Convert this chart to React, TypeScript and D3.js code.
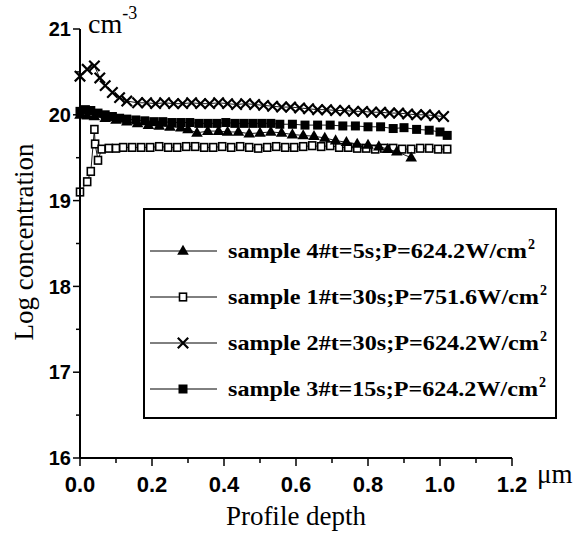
import React from 'react';
import * as d3 from 'd3';

// profile depth (um) / log concentration per sample
const s4x = [0.0, 0.02, 0.04, 0.07, 0.1, 0.13, 0.16, 0.19, 0.22, 0.25, 0.28, 0.3, 0.325, 0.355, 0.385, 0.41, 0.44, 0.47, 0.5, 0.53, 0.56, 0.59, 0.62, 0.65, 0.68, 0.71, 0.74, 0.77, 0.8, 0.83, 0.855, 0.88, 0.92];
const s4y = [20.0, 19.99, 19.98, 19.96, 19.94, 19.92, 19.9, 19.88, 19.87, 19.86, 19.85, 19.83, 19.79, 19.81, 19.81, 19.8, 19.8, 19.78, 19.79, 19.8, 19.79, 19.77, 19.76, 19.75, 19.73, 19.7, 19.68, 19.66, 19.65, 19.63, 19.6, 19.57, 19.5];

const s1x = [0.0, 0.02, 0.03, 0.04, 0.042, 0.05, 0.06, 0.08, 0.1, 0.12, 0.145, 0.17, 0.195, 0.22, 0.245, 0.27, 0.295, 0.32, 0.345, 0.37, 0.395, 0.42, 0.445, 0.47, 0.495, 0.52, 0.545, 0.57, 0.595, 0.62, 0.645, 0.67, 0.695, 0.72, 0.745, 0.77, 0.795, 0.82, 0.845, 0.87, 0.895, 0.92, 0.945, 0.97, 0.995, 1.02];
const s1y = [19.1, 19.22, 19.34, 19.83, 19.66, 19.47, 19.6, 19.61, 19.61, 19.62, 19.62, 19.62, 19.62, 19.63, 19.62, 19.62, 19.63, 19.63, 19.62, 19.62, 19.63, 19.62, 19.63, 19.62, 19.61, 19.62, 19.63, 19.62, 19.62, 19.63, 19.64, 19.63, 19.64, 19.62, 19.62, 19.61, 19.61, 19.6, 19.61, 19.61, 19.6, 19.6, 19.61, 19.61, 19.6, 19.6];

const s2x = [0.0, 0.02, 0.04, 0.055, 0.07, 0.09, 0.11, 0.13, 0.16, 0.185, 0.21, 0.235, 0.26, 0.285, 0.31, 0.335, 0.36, 0.385, 0.41, 0.435, 0.46, 0.485, 0.51, 0.535, 0.56, 0.585, 0.61, 0.635, 0.66, 0.685, 0.71, 0.735, 0.76, 0.785, 0.81, 0.835, 0.86, 0.885, 0.91, 0.935, 0.96, 0.985, 1.01];
const s2y = [20.45, 20.53, 20.57, 20.43, 20.34, 20.26, 20.2, 20.16, 20.14, 20.14, 20.13, 20.14, 20.13, 20.13, 20.14, 20.13, 20.13, 20.14, 20.13, 20.12, 20.13, 20.12, 20.11, 20.1, 20.09, 20.09, 20.08, 20.07, 20.06, 20.06, 20.05, 20.05, 20.04, 20.04, 20.03, 20.03, 20.02, 20.02, 20.01, 20.0, 20.0, 19.99, 19.98];

const s3x = [0.0, 0.015, 0.03, 0.05, 0.07, 0.09, 0.11, 0.13, 0.155, 0.18, 0.205, 0.23, 0.255, 0.28, 0.305, 0.33, 0.355, 0.38, 0.405, 0.43, 0.455, 0.48, 0.505, 0.53, 0.555, 0.59, 0.625, 0.66, 0.695, 0.73, 0.765, 0.8, 0.835, 0.87, 0.9, 0.935, 0.97, 1.0, 1.02];
const s3y = [20.04, 20.06, 20.05, 20.02, 20.0, 19.98, 19.96, 19.95, 19.94, 19.93, 19.92, 19.92, 19.91, 19.91, 19.91, 19.9, 19.9, 19.9, 19.91, 19.9, 19.9, 19.9, 19.9, 19.9, 19.89, 19.89, 19.88, 19.88, 19.88, 19.87, 19.87, 19.86, 19.86, 19.84, 19.85, 19.83, 19.82, 19.8, 19.76];

const xTicks = [0, 0.2, 0.4, 0.6, 0.8, 1.0, 1.2];
const yTicks = [16, 17, 18, 19, 20, 21];
const legendLabels = ['sample 4#t=5s;P=624.2W/cm', 'sample 1#t=30s;P=751.6W/cm', 'sample 2#t=30s;P=624.2W/cm', 'sample 3#t=15s;P=624.2W/cm'];
const legendEnds = [527, 539, 539, 538];

const serif = '"Liberation Serif", "Times New Roman", serif';
const sans = '"Liberation Sans", Arial, sans-serif';

type Kind = 'tri' | 'open' | 'x' | 'fill';

const Marker = ({ kind, cx, cy }: { kind: Kind; cx: number; cy: number }) => {
  if (kind === 'tri') {
    const s = d3.symbol(d3.symbolTriangle, 58)();
    return <path d={s || ''} transform={`translate(${cx},${cy + 0.5})`} fill="#000" />;
  }
  if (kind === 'open') {
    return <rect x={cx - 3.5} y={cy - 3.8} width={7} height={7.6} fill="#fff" stroke="#000" strokeWidth={1.6} />;
  }
  if (kind === 'x') {
    const r = 5.2;
    return (
      <path d={`M${cx - r},${cy - r}L${cx + r},${cy + r}M${cx - r},${cy + r}L${cx + r},${cy - r}`} stroke="#000" strokeWidth={2.2} fill="none" />
    );
  }
  return <rect x={cx - 4.5} y={cy - 4.5} width={9} height={9} fill="#000" />;
};

export default function App() {
  const W = 587;
  const H = 539;
  const x = d3.scaleLinear().domain([0, 1.2]).range([80, 512]);
  const y = d3.scaleLinear().domain([16, 21]).range([458, 29]);

  const series: { xs: number[]; ys: number[]; kind: Kind }[] = [
    { xs: s1x, ys: s1y, kind: 'open' },
    { xs: s4x, ys: s4y, kind: 'tri' },
    { xs: s3x, ys: s3y, kind: 'fill' },
    { xs: s2x, ys: s2y, kind: 'x' },
  ];

  const line = d3.line<[number, number]>().x(d => x(d[0])).y(d => y(d[1]));
  const xMinor = d3.range(0, 1.21, 0.1);
  const yMinor = d3.range(16, 21.01, 0.5);

  const legendKinds: Kind[] = ['tri', 'open', 'x', 'fill'];
  const legendRows = [251, 297, 343, 389];

  return (
    <svg width={W} height={H} style={{ position: 'absolute', left: 0, top: 0, background: '#fff' }}>
      {/* series */}
      {series.map((s, i) => {
        const pts = s.xs.map((v, j) => [v, s.ys[j]] as [number, number]);
        return (
          <g key={i}>
            <path d={line(pts) || ''} fill="none" stroke="#000" strokeWidth={0.9} />
            {pts.map((p, j) => (
              <Marker key={j} kind={s.kind} cx={x(p[0])} cy={y(p[1])} />
            ))}
          </g>
        );
      })}

      {/* axes */}
      <line x1={x(0)} x2={x(0)} y1={y(21)} y2={y(16)} stroke="#000" strokeWidth={2} />
      <line x1={x(0)} x2={x(1.2)} y1={y(16)} y2={y(16)} stroke="#000" strokeWidth={2} />
      {yMinor.map(v => (
        <line key={v} x1={x(0)} x2={x(0) - (Number.isInteger(v) ? 7 : 4)} y1={y(v)} y2={y(v)} stroke="#000" strokeWidth={1.5} />
      ))}
      {xMinor.map(v => {
        const major = Math.round(v * 10) % 2 === 0;
        return <line key={v} x1={x(v)} x2={x(v)} y1={y(16)} y2={y(16) + (major ? 8 : 5)} stroke="#000" strokeWidth={1.5} />;
      })}
      {yTicks.map(v => (
        <text key={v} x={x(0) - 9} y={y(v)} dy="0.36em" textAnchor="end" fontFamily={sans} fontWeight="bold" fontSize={20}>
          {v}
        </text>
      ))}
      {xTicks.map(v => (
        <text key={v} x={x(v)} y={492} textAnchor="middle" fontFamily={sans} fontWeight="bold" fontSize={22}>
          {v.toFixed(1)}
        </text>
      ))}

      {/* units and titles */}
      <text x={88} y={33} fontFamily={serif} fontSize={28}>
        cm<tspan dy={-14} fontSize={18}>-3</tspan>
      </text>
      <text x={537} y={483} fontFamily={serif} fontSize={27}>μm</text>
      <text x={296} y={525} textAnchor="middle" fontFamily={serif} fontSize={27}>Profile depth</text>
      <text transform="translate(33,242) rotate(-90)" textAnchor="middle" fontFamily={serif} fontSize={27}>Log concentration</text>

      {/* legend */}
      <rect x={144} y={209} width={412} height={209} fill="#fff" stroke="#000" strokeWidth={2} />
      {legendLabels.map((lab, i) => (
        <g key={i}>
          <line x1={150} x2={217} y1={legendRows[i]} y2={legendRows[i]} stroke="#000" strokeWidth={1} />
          <Marker kind={legendKinds[i]} cx={183} cy={legendRows[i]} />
          <text x={228} y={legendRows[i] + 7} fontFamily={serif} fontWeight="bold" fontSize={21}
            textLength={legendEnds[i] - 228} lengthAdjust="spacingAndGlyphs">
            {lab}
          </text>
          <text x={legendEnds[i] + 1} y={legendRows[i] - 2} fontFamily={serif} fontWeight="bold" fontSize={14}>2</text>
        </g>
      ))}
    </svg>
  );
}
